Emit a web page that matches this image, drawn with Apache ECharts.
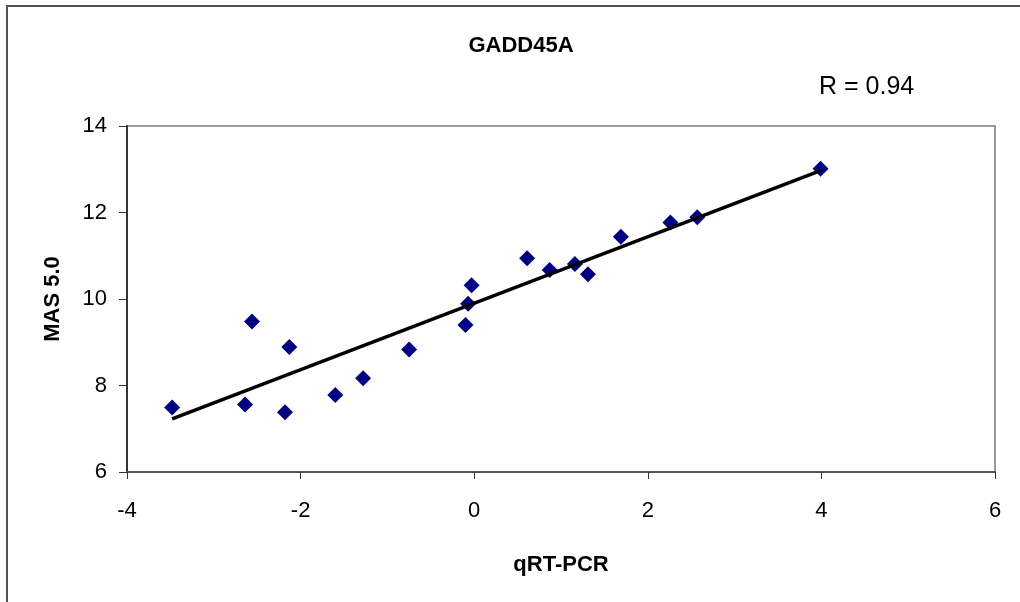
<!DOCTYPE html>
<html>
<head>
<meta charset="utf-8">
<script src="https://cdn.jsdelivr.net/npm/echarts@6/dist/echarts.min.js"></script>
<style>
  html, body { margin: 0; padding: 0; background: #fff; }
  #chart { width: 1020px; height: 602px; }
</style>
</head>
<body>
<div id="chart"></div>
<script>
// qRT-PCR (x) vs MAS 5.0 (y) for GADD45A
const qrtPcr = [-3.48, -2.56, -2.64, -2.13, -2.18, -1.60, -1.28, -0.75, -0.10, -0.07, -0.03,
  0.61, 0.87, 1.16, 1.31, 1.69, 2.26, 2.57, 3.99]
const mas5 = [7.49, 9.48, 7.56, 8.89, 7.38, 7.78, 8.17, 8.83, 9.40, 9.89, 10.32,
  10.94, 10.67, 10.81, 10.57, 11.44, 11.77, 11.89, 13.01]
// linear trend line end points
const trendX = [-3.48, 3.99]
const trendY = [7.23, 12.97]
const xTicks = [-4, 6, 2] // min, max, step
const yTicks = [6, 14, 2]

const font = '"Liberation Sans", Arial, sans-serif'
const chart = echarts.init(document.getElementById('chart'))

chart.setOption({
  animation: false,
  backgroundColor: '#fff',
  title: [{
    text: 'GADD45A',
    left: 516,
    textAlign: 'center',
    top: 30,
    textStyle: { fontFamily: font, fontSize: 22, fontWeight: 'bold', color: '#000' }
  }, {
    text: 'R = 0.94',
    left: 814,
    top: 70,
    textStyle: { fontFamily: font, fontSize: 25, fontWeight: 'normal', color: '#000' }
  }],
  graphic: [{
    type: 'rect',
    shape: { x: 7, y: 6, width: 1100, height: 700 },
    style: { fill: 'none', stroke: '#505050', lineWidth: 2 },
    silent: true
  }],
  grid: {
    left: 127,
    top: 126,
    right: 25,
    bottom: 130,
    show: true,
    borderColor: '#999',
    borderWidth: 2
  },
  xAxis: {
    type: 'value',
    min: xTicks[0],
    max: xTicks[1],
    interval: xTicks[2],
    name: 'qRT-PCR',
    nameLocation: 'middle',
    nameGap: 82,
    nameTextStyle: { fontFamily: font, fontSize: 22, fontWeight: 'bold', color: '#000' },
    axisLine: { onZero: false, lineStyle: { color: '#555', width: 2 } },
    axisTick: { length: 7, lineStyle: { color: '#333', width: 1 } },
    axisLabel: { margin: 28, fontFamily: font, fontSize: 22, color: '#000' },
    splitLine: { show: false }
  },
  yAxis: {
    type: 'value',
    min: yTicks[0],
    max: yTicks[1],
    interval: yTicks[2],
    name: 'MAS 5.0',
    nameLocation: 'middle',
    nameGap: 63,
    nameTextStyle: { fontFamily: font, fontSize: 22, fontWeight: 'bold', color: '#000' },
    axisLine: { onZero: false, lineStyle: { color: '#333', width: 2 } },
    axisTick: { length: 8, lineStyle: { color: '#333', width: 1 } },
    axisLabel: { margin: 20, fontFamily: font, fontSize: 22, color: '#000' },
    splitLine: { show: false }
  },
  series: [{
    type: 'line',
    data: trendX.map((x, i) => [x, trendY[i]]),
    symbol: 'none',
    lineStyle: { color: '#000', width: 3.5 },
    z: 3
  }, {
    type: 'scatter',
    data: qrtPcr.map((x, i) => [x, mas5[i]]),
    symbol: 'diamond',
    symbolSize: 16,
    itemStyle: { color: '#000080', opacity: 1 },
    z: 2
  }]
})
</script>
</body>
</html>
